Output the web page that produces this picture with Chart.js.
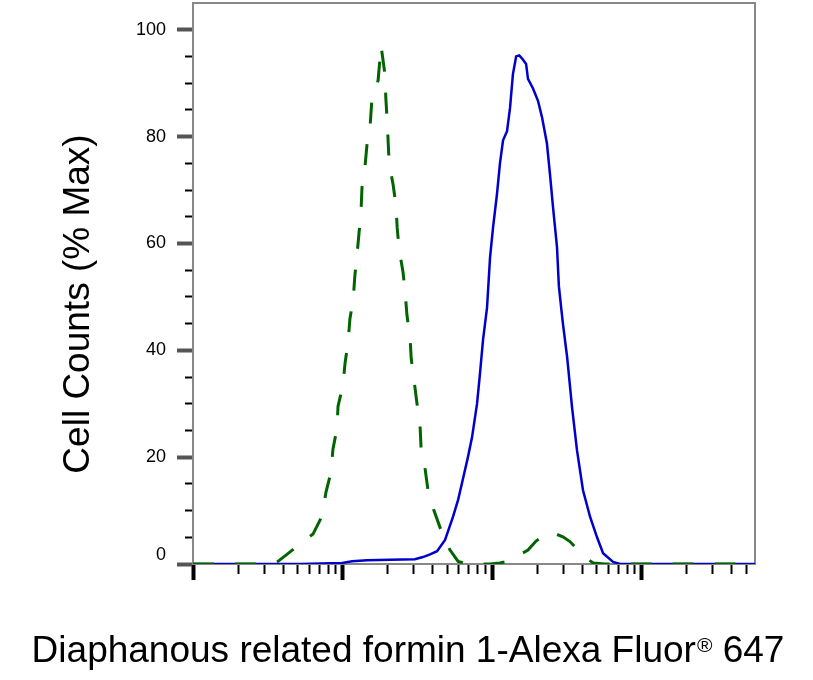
<!DOCTYPE html>
<html>
<head>
<meta charset="utf-8">
<script src="https://cdn.jsdelivr.net/npm/chart.js@4.4.1/dist/chart.umd.min.js"></script>
<style>
  html, body { margin: 0; padding: 0; background: #fff; }
  #wrap { width: 813px; height: 680px; position: relative; }
</style>
</head>
<body>
<div id="wrap"><canvas id="histo"></canvas></div>
<script>
// isotype control (dashed green)
var isoX = [1, 1.97, 2.68, 3.27, 3.7, 4.25, 4.81, 5.61, 6.35, 7.3, 7.76, 8.38, 8.63, 9.19, 9.33, 10.07,
  10.4, 10.9, 11.2, 11.8, 12.1, 12.5, 12.9, 13.3, 13.5, 14.1, 14.6, 15.3, 15.7, 16.5, 17.3, 18.1,
  19.2, 19.5, 19.9, 20.2, 20.5, 21.8, 22.8, 23.2, 23.9, 25.4, 26.2, 27.0, 28.3, 28.8, 30.1, 31.5,
  33.0, 33.5, 35.6, 37.3, 40.9, 46.3, 52.4, 59.3, 69, 97, 113, 136, 154, 174, 197, 219, 244, 268,
  298, 332, 370, 419, 474, 570, 1140, 5740];
var isoY = [0, 0, 0, 0.1, 0.5, 1.8, 3, 4.5, 5.6, 9, 13.5, 17.2, 21.5, 25.4, 29.5, 33.5,
  37.6, 41.5, 45.8, 49.7, 54, 57.8, 62, 66, 70.5, 74, 78.7, 82, 86.7, 88.5, 90.5, 97,
  91.8, 87, 83, 79, 75, 71, 67, 63, 59, 54.6, 51, 46.5, 42.4, 38.5, 34.4, 30,
  26, 22, 18, 13.8, 10, 5.8, 2.6, 0.5, 0, 0, 0.2, 0.7, 1.8, 2.6, 4.3, 5.2, 6, 5.6,
  5.1, 4.2, 2.8, 1.3, 0.2, 0, 0, 0];

// stained sample (solid blue)
var sampleX = [1, 5.2, 9.93, 11.6, 14.6, 20.8, 30.5, 34.5, 38.5, 42.9, 48.5, 54.8, 59.3, 64, 69,
  73.5, 79.4, 83.1, 87.1, 92.6, 97, 101.6, 108, 113, 118.5, 126, 132, 138, 145, 152, 159, 169,
  174, 188, 203, 216, 233, 244, 256, 272, 280, 290, 298, 318, 343, 370, 406, 453, 504, 553, 645,
  718, 5740];
var sampleY = [0, 0, 0.2, 0.5, 0.7, 0.8, 0.9, 1.3, 1.8, 2.4, 4.5, 8.8, 12, 16, 20,
  23.7, 30, 35.7, 42, 48, 57.4, 63, 69.3, 75, 79.3, 81, 85.4, 91.7, 95, 95.2, 94.6, 93.6,
  90.8, 89, 86.7, 83.6, 78.7, 73, 66.7, 59.3, 52, 48, 45, 38.7, 29.3, 21.3, 13.8, 8.8, 5, 2, 0.4,
  0, 0];

var yLabelValues = [0, 20, 40, 60, 80, 100];
var xDecades = [1, 10, 100, 1000];
var xMin = 1, xMax = 5740;
var yMin = 0, yMax = 105;

var yTitle = 'Cell Counts (% Max)';
var xTitle = 'Diaphanous related formin 1-Alexa Fluor';
var xTitleMark = '®';
var xTitleEnd = ' 647';

function toPoints(xs, ys) {
    var pts = [];
    for (var i = 0; i < xs.length; i++) { // same length arrays
        pts.push({x: xs[i], y: ys[i]});
    }
    return pts;
}

function isDecade(v) {
    var l = Math.log10(v);
    return Math.abs(l - Math.round(l)) < 1e-9;
}

var FONT = "'Liberation Sans', Arial, sans-serif";

// axis titles drawn by hand, the x one needs a small raised (R) mark
var axisTitles = {
    id: 'axisTitles',
    afterDraw: function (chart) {
        var c = chart.ctx;
        c.save();
        c.fillStyle = '#000';
        c.textBaseline = 'alphabetic';

        // y title, rotated
        c.font = '37px ' + FONT;
        c.save();
        c.translate(89, 304);
        c.rotate(-Math.PI / 2);
        c.textAlign = 'center';
        c.fillText(yTitle, 0, 0);
        c.restore();

        // x title
        c.textAlign = 'left';
        c.font = '37px ' + FONT;
        var w1 = c.measureText(xTitle).width;
        var w3 = c.measureText(xTitleEnd).width;
        c.font = '21px ' + FONT;
        var w2 = c.measureText(xTitleMark).width + 1;
        var x0 = 408 - (w1 + w2 + w3) / 2;
        c.font = '37px ' + FONT;
        c.fillText(xTitle, x0, 662);
        c.font = '21px ' + FONT;
        c.fillText(xTitleMark, x0 + w1 + 1, 652);
        c.font = '37px ' + FONT;
        c.fillText(xTitleEnd, x0 + w1 + w2, 662);
        c.restore();
    }
};

Chart.defaults.font.family = FONT;
Chart.defaults.color = '#000';

var ctx = document.getElementById('histo');
var chart = new Chart(ctx, {
    type: 'line',
    data: {
        datasets: [{
            label: 'Isotype control',
            data: toPoints(isoX, isoY),
            borderColor: '#006400',
            borderWidth: 3,
            borderDash: [21, 21],
            pointRadius: 0,
            tension: 0,
            fill: false
        }, {
            label: 'Diaphanous related formin 1',
            data: toPoints(sampleX, sampleY),
            borderColor: '#0000cc',
            borderWidth: 2.5,
            pointRadius: 0,
            tension: 0,
            fill: false
        }]
    },
    plugins: [axisTitles],
    options: {
        responsive: true,
        maintainAspectRatio: false,
        animation: false,
        layout: { padding: { left: 0, right: 58, top: 3, bottom: 0 } },
        plugins: {
            legend: { display: false },
            tooltip: { enabled: false }
        },
        scales: {
            x: {
                type: 'logarithmic',
                position: 'bottom',
                min: xMin,
                max: xMax,
                afterBuildTicks: function (scale) {
                    var t = [];
                    xDecades.forEach(function (d) {
                        for (var k = 1; k <= 9; k++) {
                            var v = d * k;
                            if (v <= xMax) t.push({value: v});
                        }
                    });
                    scale.ticks = t;
                },
                afterFit: function (scale) { scale.height = 116; },
                ticks: { display: false },
                grid: {
                    drawOnChartArea: false,
                    tickLength: 16,
                    tickColor: '#000',
                    tickWidth: function (c) { return c.tick && isDecade(c.tick.value) ? 4 : 2; },
                    tickBorderDash: function (c) { return c.tick && isDecade(c.tick.value) ? [] : [9, 100]; }
                },
                border: { color: '#888', width: 2 }
            },
            y: {
                type: 'linear',
                position: 'left',
                min: yMin,
                max: yMax,
                afterFit: function (scale) {
                    scale.width = 193;
                    scale.paddingTop = 0;
                    scale.paddingBottom = 0;
                },
                ticks: {
                    stepSize: 5,
                    padding: 11,
                    autoSkip: false,
                    font: { size: 18, lineHeight: 1 },
                    callback: function (v) {
                        if (v === yMax) return null;
                        if (yLabelValues.indexOf(v) < 0) return '';
                        if (v === 0) return ['0', ''];
                        return String(v);
                    }
                },
                grid: {
                    drawOnChartArea: false,
                    tickLength: 16,
                    tickColor: function (c) { return c.tick && c.tick.value % 20 === 0 ? '#555' : '#000'; },
                    tickWidth: function (c) { return c.tick && c.tick.value % 20 === 0 ? 4 : 2; },
                    tickBorderDash: function (c) { return c.tick && c.tick.value % 20 === 0 ? [] : [0, 8, 7, 100]; }
                },
                border: { color: '#888', width: 2 }
            },
            yRight: {
                type: 'linear',
                position: 'right',
                min: yMin,
                max: yMax,
                ticks: { display: false },
                grid: { drawOnChartArea: false, drawTicks: false },
                border: { color: '#888', width: 2 }
            },
            xTop: {
                type: 'linear',
                position: 'top',
                min: 0,
                max: 1,
                ticks: { display: false },
                grid: { drawOnChartArea: false, drawTicks: false },
                border: { color: '#888', width: 2 }
            }
        }
    }
});
</script>
</body>
</html>
